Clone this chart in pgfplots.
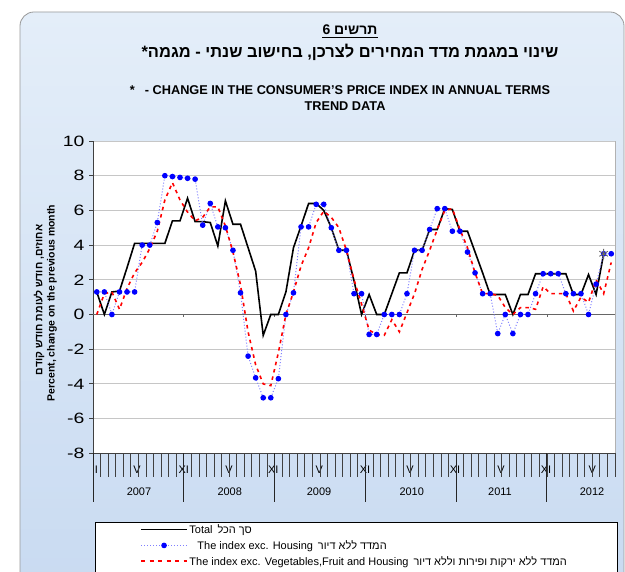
\documentclass[border=0pt]{standalone}
\usepackage{pgfplots}
\pgfplotsset{compat=1.18}
\usepackage{pgfplotstable}
\usepackage{fontspec}
\setmainfont{Liberation Sans}
\newfontfamily\heb[Script=Hebrew]{Liberation Sans}
\newfontfamily\tickf[FakeStretch=1.3]{Liberation Sans}
\TeXXeTstate=1
\newcommand\HE[1]{{\heb\beginR #1\endR}}
\definecolor{bgtop}{HTML}{E4EEF9}
\definecolor{bgbot}{HTML}{C8DAF1}
\definecolor{serblue}{HTML}{0000FF}
\definecolor{serblueline}{HTML}{7F7FFF}
\definecolor{serred}{HTML}{FF0000}

\pgfplotstableread{
i v
0 1.3
1 0.0
2 1.3
3 1.35
4 2.7
5 4.1
6 4.1
7 4.1
8 4.1
9 4.1
10 5.4
11 5.4
12 6.7
13 5.35
14 5.35
15 5.3
16 3.95
17 6.55
18 5.2
19 5.2
20 3.85
21 2.5
22 -1.2
23 0.0
24 0.0
25 1.3
26 3.85
27 5.1
28 6.4
29 6.4
30 6.0
31 5.0
32 3.7
33 3.7
34 1.95
35 0.0
36 1.15
37 0.0
38 0.0
39 1.2
40 2.4
41 2.4
42 3.7
43 3.7
44 4.9
45 4.9
46 6.1
47 6.05
48 4.8
49 4.8
50 3.6
51 2.4
52 1.15
53 1.15
54 1.15
55 0.0
56 1.15
57 1.15
58 2.35
59 2.35
60 2.35
61 2.35
62 2.35
63 1.15
64 1.15
65 2.3
66 1.15
67 3.5
}\total

\pgfplotstableread{
i v
0 1.3
1 1.3
2 0.0
3 1.3
4 1.3
5 1.3
6 4.0
7 4.0
8 5.3
9 8.0
10 7.95
11 7.9
12 7.85
13 7.8
14 5.15
15 6.4
16 5.05
17 5.0
18 3.7
19 1.25
20 -2.4
21 -3.65
22 -4.8
23 -4.8
24 -3.7
25 0.0
26 1.25
27 5.05
28 5.05
29 6.35
30 6.35
31 5.0
32 3.7
33 3.7
34 1.2
35 1.2
36 -1.15
37 -1.15
38 0.0
39 0.0
40 0.0
41 1.2
42 3.7
43 3.7
44 4.9
45 6.1
46 6.1
47 4.8
48 4.8
49 3.6
50 2.4
51 1.2
52 1.2
53 -1.1
54 0.0
55 -1.1
56 0.0
57 0.0
58 1.2
59 2.35
60 2.35
61 2.35
62 1.2
63 1.2
64 1.2
65 0.0
66 1.75
67 3.5
68 3.5
}\housing

\pgfplotstableread{
i v
0 0.0
1 1.2
2 1.3
3 0.3
4 1.5
5 2.4
6 3.0
7 3.8
8 4.8
9 6.6
10 7.6
11 6.6
12 5.9
13 5.4
14 5.6
15 6.2
16 6.2
17 5.1
18 3.6
19 1.7
20 -1.0
21 -2.9
22 -4.0
23 -4.1
24 -2.2
25 0.0
26 1.3
27 2.8
28 3.85
29 5.3
30 5.95
31 5.6
32 5.0
33 3.7
34 2.0
35 0.6
36 -0.9
37 -1.15
38 -1.2
39 -0.3
40 -1.0
41 0.1
42 1.2
43 2.6
44 3.7
45 4.9
46 6.0
47 6.1
48 4.9
49 3.85
50 2.4
51 1.2
52 1.2
53 1.1
54 0.4
55 0.0
56 0.4
57 0.4
58 0.3
59 1.6
60 1.2
61 1.2
62 1.2
63 0.2
64 1.0
65 0.7
66 2.0
67 1.2
68 3.0
}\vegfruit

\begin{document}
\begin{tikzpicture}[x=1bp,y=1bp]
\useasboundingbox (0,0) rectangle (625,572);
\begin{scope}
\clip (0,0) rectangle (625,572);
\fill[white] (0,0) rectangle (625,572);
\shadedraw[top color=bgtop, bottom color=bgbot, rounded corners=14bp, draw=gray!80, line width=0.8bp] (20,560) rectangle (624,-30);
\draw[black, fill=white, line width=0.8bp] (95,50) rectangle (617,-5);
\end{scope}

% titles
\node[font=\bfseries\fontsize{14}{16}\selectfont, inner sep=0] (t6) at (350,542) {\HE{תרשים 6}};
\draw[line width=0.9bp] ([yshift=-2.2bp]t6.base west) -- ([yshift=-2.2bp]t6.base east);
\node[font=\bfseries\fontsize{16.5}{18}\selectfont, inner sep=0] at (350,520) {\HE{שינוי במגמת מדד המחירים לצרכן, בחישוב שנתי - מגמה*}};
\node[font=\bfseries\fontsize{12.8}{14}\selectfont, inner sep=0] at (340,482) {*\hspace{10bp}- CHANGE IN THE CONSUMER'S PRICE INDEX IN ANNUAL TERMS};
\node[font=\bfseries\fontsize{12.8}{14}\selectfont, inner sep=0] at (345,466) {TREND DATA};

% y labels
\node[rotate=90, font=\bfseries\fontsize{10.5}{12}\selectfont, inner sep=0] at (52,269) {Percent, change on the previous month};
\node[rotate=90, font=\bfseries\fontsize{10.5}{12}\selectfont, inner sep=0] at (39,272) {\HE{אחוזים, חודש לעומת חודש קודם}};

% month and year labels
\foreach \xx in {137,229,319.3,410,501,592.3} \node[font=\fontsize{11}{12}\selectfont, inner sep=0] at (\xx,102) {V};
\foreach \xx in {183.7,273.3,365,455,546} \node[font=\fontsize{11}{12}\selectfont, inner sep=0] at (\xx,102) {XI};
\node[font=\fontsize{11}{12}\selectfont, inner sep=0] at (96.3,102) {I};
\foreach \xx/\yy in {139/2007,229.7/2008,319/2009,411.7/2010,500/2011,592/2012} \node[font=\fontsize{11}{12}\selectfont, inner sep=0] at (\xx,80) {\yy};

\begin{axis}[
  at={(93bp,118.7bp)}, anchor=south west,
  scale only axis, width=522bp, height=312.3bp,
  xmin=-0.5, xmax=68.5, ymin=-8, ymax=10,
  axis background/.style={fill=white},
  axis x line*=bottom, axis y line*=left,
  axis line style={black!75, line width=0.8bp},
  ytick={-8,-6,...,10},
  xtick=\empty,
  tick align=outside,
  major tick length=4bp,
  tick style={black!75, line width=0.8bp},
  ymajorgrids, grid style={gray!45, line width=0.8bp},
  yticklabel style={font=\tickf\fontsize{15}{15}\selectfont, /pgf/number format/assume math mode=true, xshift=-1bp},
  legend style={at={(axis description cs:0.09,-0.222)}, anchor=north west, draw=none, fill=none,
     font=\fontsize{11}{12}\selectfont, legend cell align=left, row sep=2.5bp, inner sep=0pt,
     nodes={inner sep=1.5bp}},
  legend image code/.code={\draw[mark repeat=2,mark phase=2,#1] plot coordinates {(0bp,0bp) (23bp,0bp) (46bp,0bp)};},
  clip=false,
]
\draw[black!60, line width=1bp] (axis cs:-0.5,0) -- (axis cs:68.5,0);
\pgfplotsinvokeforeach{11.5,23.5,35.5,47.5,59.5}{\draw[black!60, line width=0.8bp] (axis cs:#1,0) -- ([yshift=-3bp]axis cs:#1,0);}
\pgfplotsinvokeforeach{0.5,1.5,...,68.5}{\draw[black!75, line width=0.8bp] (axis cs:#1,-8) -- ([yshift=-24bp]axis cs:#1,-8);}
\pgfplotsinvokeforeach{-0.5,11.5,23.5,35.5,47.5,59.5}{\draw[black!85, line width=0.9bp] (axis cs:#1,-8) -- ([yshift=-49bp]axis cs:#1,-8);}
\draw[gray!60, line width=0.8bp] (axis cs:68.5,-8) -- (axis cs:68.5,10);
\addplot[black, line width=1.6bp] table[x=i,y=v] {\total};
\addlegendentry{Total\hspace{5bp}\HE{סך הכל}}
\addplot[serblueline, dotted, line width=1bp, mark=*, mark options={solid, fill=serblue, draw=serblue}, mark size=2.3bp] table[x=i,y=v] {\housing};
\addlegendentry{\hspace{8bp}The index exc. Housing\hspace{5bp}\HE{המדד ללא דיור}}
\addplot[serred, dash pattern=on 3.5bp off 4bp, line width=1.6bp,
  legend image code/.code={\draw[serred, dash pattern=on 4bp off 4.5bp, line width=1.8bp] (0bp,0bp) -- (46bp,0bp);}] table[x=i,y=v] {\vegfruit};
\addlegendentry{The index exc. Vegetables,Fruit and Housing\hspace{5bp}\HE{המדד ללא ירקות ופירות וללא דיור}}
\addplot[forget plot, only marks, mark=asterisk, mark size=5bp, black!60, line width=0.9bp] coordinates {(67,3.5)};
\end{axis}
\end{tikzpicture}
\end{document}
